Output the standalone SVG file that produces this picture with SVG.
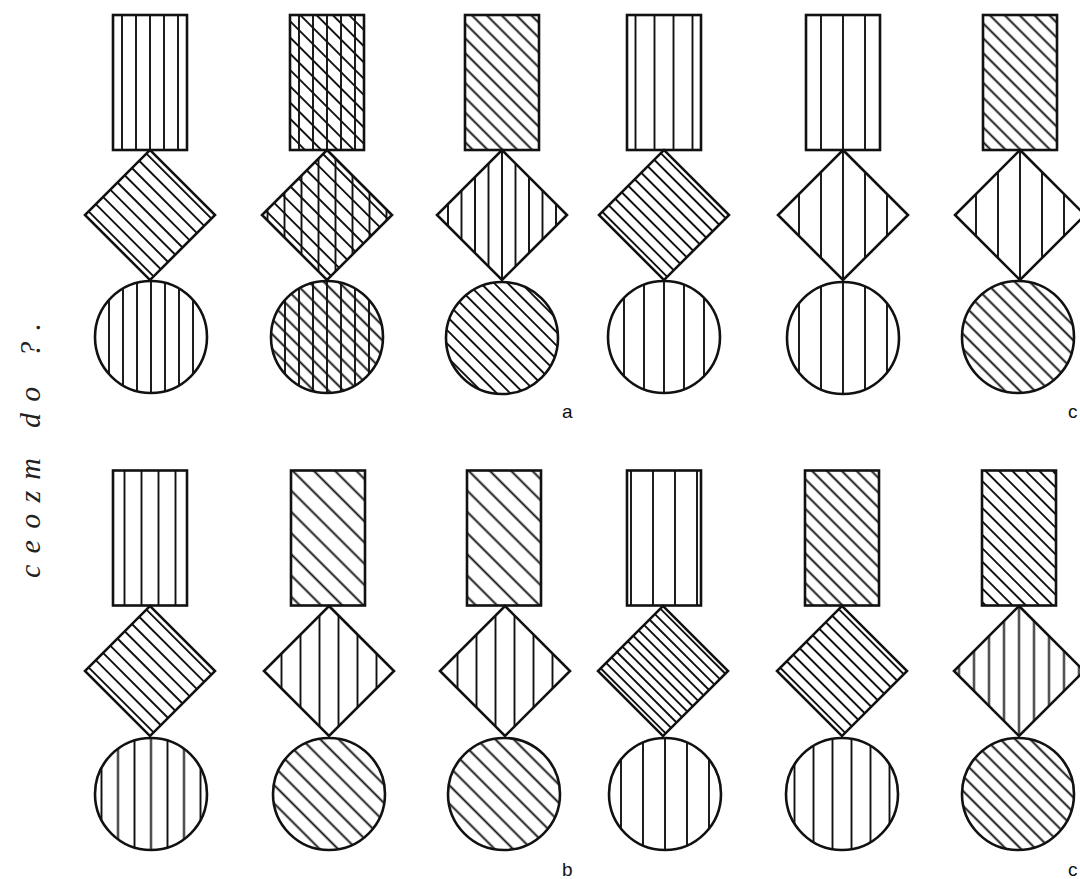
<svg xmlns="http://www.w3.org/2000/svg" xmlns:xlink="http://www.w3.org/1999/xlink" width="1080" height="879" viewBox="0 0 1080 879">
<defs>
<style>
.o{fill:none;stroke:#111;stroke-width:2.6;stroke-linejoin:miter}
.h{stroke:#111;stroke-width:1.9;fill:none}
.lbl{font-family:"Liberation Sans",Arial,sans-serif;font-size:19px;fill:#111}
.hand{font-family:"Liberation Serif","DejaVu Serif",serif;font-style:italic;font-size:30px;fill:#222}
</style>
<rect id="R" x="-37" y="-67.5" width="74" height="135"/>
<polygon id="D" points="0,-65 65,0 0,65 -65,0"/>
<rect id="Q" x="-45.96" y="-45.96" width="91.92" height="91.92"/>
<circle id="C" cx="0" cy="0" r="56"/>
<!-- diamond hatch lines, drawn in the 45° turned frame of the diamond -->
<path id="h8" class="h" d="M-46 -40.25H46M-46 -28.75H46M-46 -17.25H46M-46 -5.75H46M-46 5.75H46M-46 17.25H46M-46 28.75H46M-46 40.25H46"/>
<path id="h9" class="h" d="M-46 -40.89H46M-46 -30.67H46M-46 -20.44H46M-46 -10.22H46M-46 0H46M-46 10.22H46M-46 20.44H46M-46 30.67H46M-46 40.89H46"/>
<path id="h10" class="h" d="M-46 -41.4H46M-46 -32.2H46M-46 -23H46M-46 -13.8H46M-46 -4.6H46M-46 4.6H46M-46 13.8H46M-46 23H46M-46 32.2H46M-46 41.4H46"/>
<path id="h12" class="h" d="M-46 -42.17H46M-46 -34.5H46M-46 -26.83H46M-46 -19.17H46M-46 -11.5H46M-46 -3.83H46M-46 3.83H46M-46 11.5H46M-46 19.17H46M-46 26.83H46M-46 34.5H46M-46 42.17H46"/>
<!-- vertical hatch, a line through the centre -->
<pattern id="v13" width="13.5" height="10" patternUnits="userSpaceOnUse" patternTransform="translate(-6.75 0)"><line class="h" x1="6.75" y1="0" x2="6.75" y2="10"/></pattern>
<pattern id="v14" width="14" height="10" patternUnits="userSpaceOnUse" patternTransform="translate(-7 0)"><line class="h" x1="7" y1="0" x2="7" y2="10"/></pattern>
<pattern id="v15" width="15" height="10" patternUnits="userSpaceOnUse" patternTransform="translate(-7.5 0)"><line class="h" x1="7.5" y1="0" x2="7.5" y2="10"/></pattern>
<pattern id="v16" width="16.5" height="10" patternUnits="userSpaceOnUse" patternTransform="translate(-8.25 0)"><line class="h" x1="8.25" y1="0" x2="8.25" y2="10"/></pattern>
<pattern id="v20" width="20" height="10" patternUnits="userSpaceOnUse" patternTransform="translate(-10 0)"><line class="h" x1="10" y1="0" x2="10" y2="10"/></pattern>
<pattern id="v22" width="22" height="10" patternUnits="userSpaceOnUse" patternTransform="translate(-11 0)"><line class="h" x1="11" y1="0" x2="11" y2="10"/></pattern>
<!-- vertical hatch, no line through the centre -->
<pattern id="w17" width="17" height="10" patternUnits="userSpaceOnUse"><line class="h" x1="8.5" y1="0" x2="8.5" y2="10"/></pattern>
<pattern id="w19" width="19" height="10" patternUnits="userSpaceOnUse"><line class="h" x1="9.5" y1="0" x2="9.5" y2="10"/></pattern>
<pattern id="w22" width="22" height="10" patternUnits="userSpaceOnUse"><line class="h" x1="11" y1="0" x2="11" y2="10"/></pattern>
<!-- diagonal hatch for boxes and circles -->
<pattern id="d9" width="9.5" height="10" patternUnits="userSpaceOnUse" patternTransform="rotate(-45)"><line class="h" x1="4.75" y1="0" x2="4.75" y2="10"/></pattern>
<pattern id="d10" width="10.5" height="10" patternUnits="userSpaceOnUse" patternTransform="rotate(-45)"><line class="h" x1="5.25" y1="0" x2="5.25" y2="10"/></pattern>
<pattern id="d11" width="11.5" height="10" patternUnits="userSpaceOnUse" patternTransform="rotate(-45)"><line class="h" x1="5.75" y1="0" x2="5.75" y2="10"/></pattern>
<pattern id="d13" width="13" height="10" patternUnits="userSpaceOnUse" patternTransform="rotate(-45)"><line class="h" x1="6.5" y1="0" x2="6.5" y2="10"/></pattern>
<pattern id="d15" width="15" height="10" patternUnits="userSpaceOnUse" patternTransform="rotate(-45)"><line class="h" x1="7.5" y1="0" x2="7.5" y2="10"/></pattern>
</defs>
<rect width="1080" height="879" fill="#fff"/>

<!-- top row -->
<g id="fig-t1">
 <g id="t1-rect" transform="translate(150 82.5)"><use xlink:href="#R" fill="url(#v14)"/><use xlink:href="#R" class="o"/></g>
 <g id="t1-diamond" transform="translate(150 215) rotate(45)"><use xlink:href="#h9"/><use xlink:href="#Q" class="o"/></g>
 <g id="t1-circle" transform="translate(151 337)"><use xlink:href="#C" fill="url(#v14)"/><use xlink:href="#C" class="o"/></g>
</g>
<g id="fig-t2">
 <g id="t2-rect" transform="translate(327 82.5)"><use xlink:href="#R" fill="url(#v14)"/><use xlink:href="#R" fill="url(#d11)"/><use xlink:href="#R" class="o"/></g>
 <g id="t2-diamond" transform="translate(327 215)"><use xlink:href="#D" fill="url(#w17)"/><g transform="rotate(45)"><use xlink:href="#h8"/></g><use xlink:href="#D" class="o"/></g>
 <g id="t2-circle" transform="translate(327 337)"><use xlink:href="#C" fill="url(#v14)"/><use xlink:href="#C" fill="url(#d10)"/><use xlink:href="#C" class="o"/></g>
</g>
<g id="fig-t3">
 <g id="t3-rect" transform="translate(502 82.5)"><use xlink:href="#R" fill="url(#d10)"/><use xlink:href="#R" class="o"/></g>
 <g id="t3-diamond" transform="translate(502 215)"><use xlink:href="#D" fill="url(#v13)"/><use xlink:href="#D" class="o"/></g>
 <g id="t3-circle" transform="translate(502 338)"><use xlink:href="#C" fill="url(#d9)"/><use xlink:href="#C" class="o"/></g>
</g>
<g id="fig-t4">
 <g id="t4-rect" transform="translate(664 82.5)"><use xlink:href="#R" fill="url(#w19)"/><use xlink:href="#R" class="o"/></g>
 <g id="t4-diamond" transform="translate(664 215) rotate(45)"><use xlink:href="#h10"/><use xlink:href="#Q" class="o"/></g>
 <g id="t4-circle" transform="translate(664 337)"><use xlink:href="#C" fill="url(#v20)"/><use xlink:href="#C" class="o"/></g>
</g>
<g id="fig-t5">
 <g id="t5-rect" transform="translate(843 82.5)"><use xlink:href="#R" fill="url(#v22)"/><use xlink:href="#R" class="o"/></g>
 <g id="t5-diamond" transform="translate(843 215)"><use xlink:href="#D" fill="url(#v22)"/><use xlink:href="#D" class="o"/></g>
 <g id="t5-circle" transform="translate(843 338)"><use xlink:href="#C" fill="url(#v22)"/><use xlink:href="#C" class="o"/></g>
</g>
<g id="fig-t6">
 <g id="t6-rect" transform="translate(1020 82.5)"><use xlink:href="#R" fill="url(#d10)"/><use xlink:href="#R" class="o"/></g>
 <g id="t6-diamond" transform="translate(1020 215)"><use xlink:href="#D" fill="url(#v22)"/><use xlink:href="#D" class="o"/></g>
 <g id="t6-circle" transform="translate(1018 337)"><use xlink:href="#C" fill="url(#d10)"/><use xlink:href="#C" class="o"/></g>
</g>

<!-- bottom row -->
<g id="fig-b1">
 <g id="b1-rect" transform="translate(150 538)"><use xlink:href="#R" fill="url(#w17)"/><use xlink:href="#R" class="o"/></g>
 <g id="b1-diamond" transform="translate(150 671) rotate(45)"><use xlink:href="#h9"/><use xlink:href="#Q" class="o"/></g>
 <g id="b1-circle" transform="translate(151 794)"><use xlink:href="#C" fill="url(#v16)"/><use xlink:href="#C" class="o"/></g>
</g>
<g id="fig-b2">
 <g id="b2-rect" transform="translate(328 538)"><use xlink:href="#R" fill="url(#d15)"/><use xlink:href="#R" class="o"/></g>
 <g id="b2-diamond" transform="translate(329 671)"><use xlink:href="#D" fill="url(#w19)"/><use xlink:href="#D" class="o"/></g>
 <g id="b2-circle" transform="translate(329 794)"><use xlink:href="#C" fill="url(#d13)"/><use xlink:href="#C" class="o"/></g>
</g>
<g id="fig-b3">
 <g id="b3-rect" transform="translate(504 538)"><use xlink:href="#R" fill="url(#d15)"/><use xlink:href="#R" class="o"/></g>
 <g id="b3-diamond" transform="translate(505 671)"><use xlink:href="#D" fill="url(#w19)"/><use xlink:href="#D" class="o"/></g>
 <g id="b3-circle" transform="translate(504 794)"><use xlink:href="#C" fill="url(#d13)"/><use xlink:href="#C" class="o"/></g>
</g>
<g id="fig-b4">
 <g id="b4-rect" transform="translate(664 538)"><use xlink:href="#R" fill="url(#w22)"/><use xlink:href="#R" class="o"/></g>
 <g id="b4-diamond" transform="translate(663 671) rotate(45)"><use xlink:href="#h12"/><use xlink:href="#Q" class="o"/></g>
 <g id="b4-circle" transform="translate(665 794)"><use xlink:href="#C" fill="url(#v22)"/><use xlink:href="#C" class="o"/></g>
</g>
<g id="fig-b5">
 <g id="b5-rect" transform="translate(842 538)"><use xlink:href="#R" fill="url(#d10)"/><use xlink:href="#R" class="o"/></g>
 <g id="b5-diamond" transform="translate(842 671) rotate(45)"><use xlink:href="#h10"/><use xlink:href="#Q" class="o"/></g>
 <g id="b5-circle" transform="translate(842 794)"><use xlink:href="#C" fill="url(#w19)"/><use xlink:href="#C" class="o"/></g>
</g>
<g id="fig-b6">
 <g id="b6-rect" transform="translate(1019 538)"><use xlink:href="#R" fill="url(#d9)"/><use xlink:href="#R" class="o"/></g>
 <g id="b6-diamond" transform="translate(1019 671)"><use xlink:href="#D" fill="url(#v15)"/><use xlink:href="#D" class="o"/></g>
 <g id="b6-circle" transform="translate(1018 794)"><use xlink:href="#C" fill="url(#d10)"/><use xlink:href="#C" class="o"/></g>
</g>

<g id="connectors"></g>

<g id="labels">
 <text class="lbl" x="562" y="418">a</text>
 <text class="lbl" x="1068" y="418">c</text>
 <text class="lbl" x="562" y="876">b</text>
 <text class="lbl" x="1068" y="876">c</text>
</g>
<g id="handwriting">
 <text class="hand" transform="translate(40 578) rotate(-90)" textLength="255" lengthAdjust="spacing">ceozm do ?.</text>
</g>
</svg>
